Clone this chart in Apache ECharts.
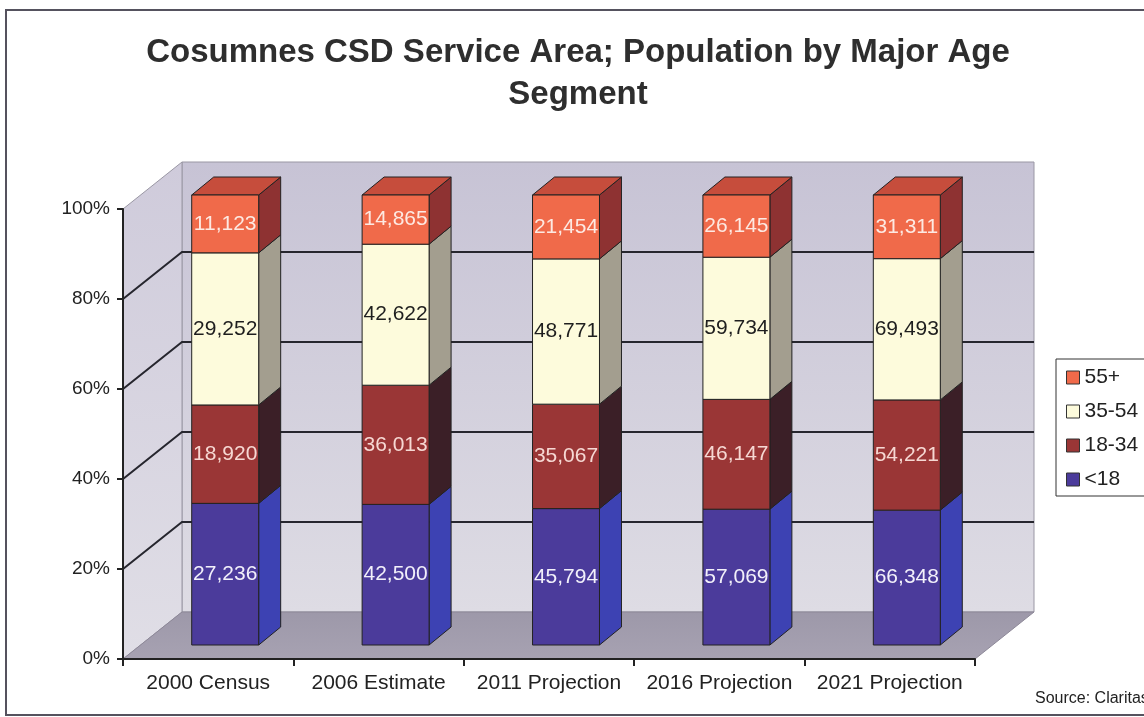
<!DOCTYPE html>
<html>
<head>
<meta charset="utf-8">
<title>Cosumnes CSD Service Area; Population by Major Age Segment</title>
<script src="https://cdn.jsdelivr.net/npm/echarts@6/dist/echarts.min.js"></script>
<style>
  html, body { margin: 0; padding: 0; background: #ffffff; }
  #chart { width: 1144px; height: 717px; }
</style>
</head>
<body>
<div id="chart"></div>
<script>
// ---- data ----
const categories = ['2000 Census', '2006 Estimate', '2011 Projection', '2016 Projection', '2021 Projection'];
const under18   = [27236, 42500, 45794, 57069, 66348];
const age18to34 = [18920, 36013, 35067, 46147, 54221];
const age35to54 = [29252, 42622, 48771, 59734, 69493];
const age55plus = [11123, 14865, 21454, 26145, 31311];
const groupNames = ['<18', '18-34', '35-54', '55+'];
const yTicks = [0, 20, 40, 60, 80, 100];
const chartTitle = 'Cosumnes CSD Service Area; Population by Major Age\nSegment';

// ---- styling ----
const FONT = '"Liberation Sans", Arial, Helvetica, sans-serif';
const frontColors = ['#4b3b9b', '#9a3636', '#fdfbdc', '#f06a4a'];
const sideColors  = ['#3d42b3', '#3b1f27', '#a39e8f', '#8e3232'];
const topColor    = '#c64d3c';
const labelColors = ['#f2f0fa', '#f6d8d3', '#1e1e1e', '#fde9e2'];
const EDGE = '#222222';

// oblique depth of the plot box (wall offset) and of the columns
const WALL_DX = 59, WALL_DY = -47;
const BAR_DX0 = 17, BAR_DY0 = -14;   // front face of the columns
const BAR_DDX = 22, BAR_DDY = -18;   // column depth
const BAR_RATIO = 0.393;

const groups = [under18, age18to34, age35to54, age55plus];
const totals = categories.map((_, j) => groups.reduce((s, g) => s + g[j], 0));

// stacked percentage rows: [categoryIndex, bottom%, top%, rawValue]
function stackedRows(si) {
  return categories.map((_, j) => {
    let lo = 0;
    for (let k = 0; k < si; k++) lo += groups[k][j] / totals[j] * 100;
    const hi = lo + groups[si][j] / totals[j] * 100;
    return [j, lo, hi, groups[si][j]];
  });
}

function poly(points, fill) {
  return {
    type: 'polygon',
    shape: { points: points },
    style: { fill: fill, stroke: EDGE, lineWidth: 1 }
  };
}

function columnRenderer(si) {
  return function (params, api) {
    const j = api.value(0), lo = api.value(1), hi = api.value(2), raw = api.value(3);
    const cx = api.coord([j, 0])[0];
    const w = api.size([1, 0])[0] * BAR_RATIO;
    const yLo = api.coord([j, lo])[1] + BAR_DY0;
    const yHi = api.coord([j, hi])[1] + BAR_DY0;
    const xL = cx + BAR_DX0 - w / 2, xR = xL + w;
    const children = [];
    // side face
    children.push(poly([[xR, yLo], [xR + BAR_DDX, yLo + BAR_DDY], [xR + BAR_DDX, yHi + BAR_DDY], [xR, yHi]], sideColors[si]));
    // top face on the upper-most segment
    if (si === groups.length - 1) {
      children.push(poly([[xL, yHi], [xR, yHi], [xR + BAR_DDX, yHi + BAR_DDY], [xL + BAR_DDX, yHi + BAR_DDY]], topColor));
    }
    // front face
    children.push(poly([[xL, yLo], [xR, yLo], [xR, yHi], [xL, yHi]], frontColors[si]));
    // value label
    children.push({
      type: 'text',
      x: (xL + xR) / 2,
      y: (yLo + yHi) / 2,
      style: {
        text: Number(raw).toLocaleString('en-US'),
        fill: labelColors[si],
        fontSize: 21,
        fontFamily: FONT,
        align: 'center',
        verticalAlign: 'middle'
      }
    });
    return { type: 'group', children: children };
  };
}

function wallRenderer(params, api) {
  const cs = params.coordSys;
  const x0 = cs.x, x1 = cs.x + cs.width;
  const yb = cs.y + cs.height, yt = cs.y;
  const children = [];
  // back wall
  children.push({
    type: 'polygon',
    shape: { points: [[x0 + WALL_DX, yt + WALL_DY], [x1 + WALL_DX, yt + WALL_DY], [x1 + WALL_DX, yb + WALL_DY], [x0 + WALL_DX, yb + WALL_DY]] },
    style: {
      fill: new echarts.graphic.LinearGradient(0, 0, 0, 1, [
        { offset: 0, color: '#c7c3d5' }, { offset: 1, color: '#dedce4' }
      ]),
      stroke: '#9a97a4', lineWidth: 1
    }
  });
  // side wall
  children.push({
    type: 'polygon',
    shape: { points: [[x0, yt], [x0 + WALL_DX, yt + WALL_DY], [x0 + WALL_DX, yb + WALL_DY], [x0, yb]] },
    style: {
      fill: new echarts.graphic.LinearGradient(0, 0, 0, 1, [
        { offset: 0, color: '#cfcbdb' }, { offset: 1, color: '#e0dee6' }
      ]),
      stroke: '#9a97a4', lineWidth: 1
    }
  });
  // floor
  children.push({
    type: 'polygon',
    shape: { points: [[x0, yb], [x1, yb], [x1 + WALL_DX, yb + WALL_DY], [x0 + WALL_DX, yb + WALL_DY]] },
    style: {
      fill: new echarts.graphic.LinearGradient(0, 0, 0, 1, [
        { offset: 0, color: '#9d98a9' }, { offset: 1, color: '#a7a2b2' }
      ]),
      stroke: '#8d8898', lineWidth: 1
    }
  });
  // gridlines across side and back walls
  yTicks.slice(1, -1).forEach(v => {
    const y = api.coord([0, v])[1];
    children.push({
      type: 'polyline',
      shape: { points: [[x0, y], [x0 + WALL_DX, y + WALL_DY], [x1 + WALL_DX, y + WALL_DY]] },
      style: { stroke: '#26262e', lineWidth: 2, fill: null }
    });
  });
  return { type: 'group', children: children };
}

const chart = echarts.init(document.getElementById('chart'), null, { renderer: 'canvas' });

const series = [{
  name: 'walls',
  type: 'custom',
  z: -1,
  silent: true,
  clip: false,
  data: [[0, 0]],
  encode: { x: 0, y: 1 },
  renderItem: wallRenderer
}];
groupNames.forEach((name, si) => {
  series.push({
    name: name,
    type: 'custom',
    z: 3,
    clip: false,
    itemStyle: { color: frontColors[si] },
    data: stackedRows(si),
    encode: { x: 0, y: 2 },
    renderItem: columnRenderer(si)
  });
});

chart.setOption({
  animation: false,
  backgroundColor: '#ffffff',
  legend: {
    orient: 'vertical',
    left: 1056,
    top: 359,
    selectedMode: false,
    itemWidth: 13,
    itemHeight: 13,
    itemGap: 13,
    padding: [8, 24, 6, 10],
    borderColor: '#333333',
    borderWidth: 1,
    backgroundColor: '#ffffff',
    textStyle: { fontSize: 21, color: '#222222', fontFamily: FONT },
    data: ['55+', '35-54', '18-34', '<18'].map(n => ({
      name: n,
      icon: 'rect',
      itemStyle: { color: frontColors[groupNames.indexOf(n)], borderColor: '#333333', borderWidth: 1 }
    }))
  },
  grid: { left: 123, right: 169, top: 209, bottom: 58, containLabel: false },
  xAxis: {
    type: 'category',
    data: categories,
    boundaryGap: true,
    axisLine: { lineStyle: { color: '#222222', width: 2 } },
    axisTick: { show: true, length: 7, lineStyle: { color: '#222222', width: 2 } },
    axisLabel: { interval: 0, fontSize: 21, color: '#222222', fontFamily: FONT, margin: 14 },
    splitLine: { show: false }
  },
  yAxis: {
    type: 'value',
    min: 0,
    max: 100,
    interval: 20,
    axisLine: { show: true, lineStyle: { color: '#222222', width: 2 } },
    axisTick: { show: true, length: 6, lineStyle: { color: '#222222', width: 2 } },
    axisLabel: { fontSize: 19, color: '#222222', fontFamily: FONT, margin: 13, formatter: '{value}%' },
    splitLine: { show: false }
  },
  graphic: [
    {
      type: 'rect',
      z: -10,
      silent: true,
      shape: { x: 6, y: 10, width: 1200, height: 705 },
      style: { fill: null, stroke: '#55525e', lineWidth: 2 }
    },
    {
      type: 'text',
      x: 578,
      y: 32,
      silent: true,
      style: {
        text: chartTitle,
        fontSize: 33,
        fontWeight: 'bold',
        lineHeight: 42,
        fill: '#2e2e2e',
        fontFamily: FONT,
        align: 'center',
        verticalAlign: 'top'
      }
    },
    {
      type: 'text',
      left: 1035,
      top: 691,
      silent: true,
      style: { text: 'Source: Claritas', fontSize: 16, fill: '#222222', fontFamily: FONT }
    }
  ],
  series: series
});
</script>
</body>
</html>
